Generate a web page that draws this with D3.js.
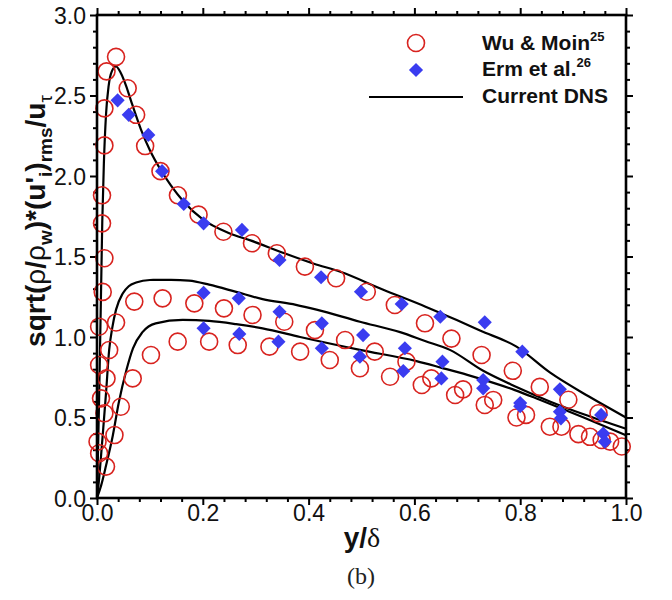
<!DOCTYPE html>
<html>
<head>
<meta charset="utf-8">
<script src="https://cdn.jsdelivr.net/npm/d3@7"></script>
<style>
  body { margin: 0; background: #fff; }
  svg { display: block; }
  text { font-family: "Liberation Sans", Arial, sans-serif; }
</style>
</head>
<body>
<svg id="chart" width="672" height="600"></svg>
<script>
// Current DNS profiles [y/delta, value]
const dnsU = [[0,0],[0.002,0.3],[0.004,0.62],[0.006,0.98],[0.008,1.35],[0.010,1.72],[0.013,2.08],[0.017,2.38],[0.022,2.56],[0.028,2.65],[0.036,2.68],[0.045,2.64],[0.055,2.56],[0.064,2.47],[0.083,2.29],[0.10,2.16],[0.12,2.04],[0.14,1.94],[0.164,1.84],[0.2,1.73],[0.25,1.645],[0.29,1.6],[0.35,1.525],[0.41,1.455],[0.46,1.405],[0.54,1.295],[0.62,1.19],[0.68,1.105],[0.724,1.04],[0.793,0.94],[0.856,0.78],[0.93,0.63],[1.0,0.50]];
const dnsW = [[0,0],[0.004,0.12],[0.0076,0.26],[0.012,0.44],[0.017,0.65],[0.023,0.92],[0.029,1.06],[0.036,1.17],[0.0486,1.27],[0.06,1.315],[0.074,1.338],[0.1,1.354],[0.14,1.355],[0.174,1.35],[0.212,1.325],[0.263,1.28],[0.313,1.235],[0.376,1.2],[0.415,1.17],[0.497,1.095],[0.573,1.03],[0.62,0.975],[0.667,0.92],[0.73,0.79],[0.793,0.69],[0.856,0.6],[0.92,0.52],[1.0,0.43]];
const dnsV = [[0,0],[0.008,0.08],[0.017,0.2],[0.03,0.39],[0.041,0.59],[0.056,0.8],[0.068,0.93],[0.086,1.03],[0.111,1.085],[0.162,1.106],[0.212,1.10],[0.263,1.08],[0.313,1.054],[0.384,1.0],[0.497,0.92],[0.604,0.85],[0.65,0.81],[0.7,0.765],[0.73,0.735],[0.79,0.67],[0.837,0.61],[0.92,0.5],[1.0,0.39]];

// Wu & Moin (circles)
const wuU = [[0.001,0.35],[0.0076,0.619],[0.004,0.826],[0.004,1.064],[0.0108,1.28],[0.014,1.489],[0.0095,1.706],[0.0095,1.88],[0.014,2.19],[0.014,2.42],[0.018,2.65],[0.036,2.74],[0.058,2.545],[0.074,2.38],[0.091,2.186],[0.12,2.03],[0.153,1.88],[0.192,1.76],[0.239,1.654],[0.293,1.582],[0.34,1.52],[0.393,1.437],[0.452,1.365],[0.51,1.281],[0.563,1.199],[0.62,1.085],[0.67,0.99],[0.727,0.888],[0.786,0.79],[0.837,0.69],[0.891,0.61],[0.948,0.526]];
const wuW = [[0.004,0.278],[0.014,0.526],[0.018,0.743],[0.023,0.919],[0.036,1.09],[0.0705,1.22],[0.124,1.24],[0.184,1.209],[0.24,1.178],[0.294,1.137],[0.354,1.095],[0.412,1.043],[0.469,0.981],[0.525,0.909],[0.585,0.847],[0.632,0.743],[0.692,0.675],[0.749,0.609],[0.811,0.516],[0.878,0.443],[0.932,0.38],[0.97,0.35]];
const wuV = [[0.017,0.195],[0.033,0.391],[0.045,0.567],[0.0675,0.743],[0.102,0.888],[0.1525,0.971],[0.212,0.971],[0.266,0.95],[0.326,0.94],[0.384,0.909],[0.44,0.857],[0.497,0.806],[0.554,0.753],[0.614,0.702],[0.677,0.64],[0.733,0.578],[0.793,0.50],[0.856,0.443],[0.91,0.397],[0.954,0.36],[0.992,0.32]];

// Erm et al. (diamonds)
const ermU = [[0.039,2.47],[0.06,2.38],[0.097,2.255],[0.123,2.03],[0.164,1.826],[0.2015,1.706],[0.274,1.665],[0.345,1.478],[0.4236,1.371],[0.499,1.281],[0.576,1.205],[0.649,1.126],[0.733,1.091],[0.804,0.909],[0.875,0.675],[0.953,0.516]];
const ermW = [[0.2015,1.275],[0.268,1.24],[0.345,1.157],[0.425,1.085],[0.503,1.012],[0.582,0.93],[0.653,0.847],[0.73,0.733],[0.80,0.59],[0.875,0.536],[0.957,0.40]];
const ermV = [[0.2015,1.054],[0.269,1.019],[0.343,0.971],[0.425,0.93],[0.497,0.878],[0.579,0.789],[0.651,0.743],[0.73,0.681],[0.80,0.57],[0.877,0.495],[0.96,0.35]];

const xTicks = [0, 0.2, 0.4, 0.6, 0.8, 1.0];
const yTicks = [0, 0.5, 1.0, 1.5, 2.0, 2.5, 3.0];

const legendItems = [
  { label: "Wu & Moin", sup: "25", kind: "circle" },
  { label: "Erm et al.", sup: "26", kind: "diamond" },
  { label: "Current DNS", sup: "", kind: "line" },
];

const red = "#d8231f";
const blue = "#3a3cf0";

// Mise en page
const plotLeft = 97, plotRight = 626, plotTop = 15, plotBottom = 498;

const svg = d3.select("#chart");
svg.append("rect").attr("width", 672).attr("height", 600).attr("fill", "#fff");

const x = d3.scaleLinear().domain([0, 1]).range([plotLeft, plotRight]);
const y = d3.scaleLinear().domain([0, 3]).range([plotBottom, plotTop]);

const xMinor = d3.range(0, 1.0001, 0.04).filter((v) => Math.abs(v / 0.2 - Math.round(v / 0.2)) > 1e-6);
const yMinor = d3.range(0, 3.0001, 0.1).filter((v) => Math.abs(v / 0.5 - Math.round(v / 0.5)) > 1e-6);

// Axes
function drawAxis(axisFn, scale, major, minor, transform, labels) {
  const gMin = svg.append("g").attr("transform", transform)
    .call(axisFn(scale).tickValues(minor).tickSize(4).tickSizeOuter(0).tickFormat(""));
  const gMaj = svg.append("g").attr("transform", transform)
    .call(axisFn(scale).tickValues(major).tickSize(7).tickSizeOuter(0)
      .tickPadding(labels ? 3 : 0).tickFormat(labels ? d3.format(".1f") : ""));
  [gMin, gMaj].forEach((g) => {
    g.select(".domain").remove();
    g.selectAll("line").attr("stroke", "#000").attr("stroke-width", 2);
  });
  gMaj.selectAll("text").attr("font-size", 23).attr("fill", "#111")
    .style("font-family", "'Liberation Sans', Arial, sans-serif");
  return gMaj;
}

const gx = drawAxis(d3.axisBottom, x, xTicks, xMinor, `translate(0,${plotBottom})`, true);
gx.selectAll("text").attr("dy", "0.71em").attr("y", 7);
drawAxis(d3.axisTop, x, xTicks, xMinor, `translate(0,${plotTop})`, false);
const gy = drawAxis(d3.axisLeft, y, yTicks, yMinor, `translate(${plotLeft},0)`, true);
gy.selectAll("text").attr("x", -11).attr("dy", "0.36em");
drawAxis(d3.axisRight, y, yTicks, yMinor, `translate(${plotRight},0)`, false);

// DNS lines
const line = d3.line().x((d) => x(d[0])).y((d) => y(d[1])).curve(d3.curveMonotoneX);
[dnsU, dnsW, dnsV].forEach((s) => {
  svg.append("path").datum(s).attr("d", line)
    .attr("fill", "none").attr("stroke", "#000").attr("stroke-width", 2.2);
});

// Wu & Moin circles
svg.append("g").selectAll("circle")
  .data([].concat(wuU, wuW, wuV))
  .join("circle")
  .attr("cx", (d) => x(d[0])).attr("cy", (d) => y(d[1])).attr("r", 8.5)
  .attr("fill", "none").attr("stroke", red).attr("stroke-width", 1.6);

// Erm et al. diamonds
const diamond = d3.symbol().type(d3.symbolSquare).size(100);
svg.append("g").selectAll("path")
  .data([].concat(ermU, ermW, ermV))
  .join("path")
  .attr("d", diamond)
  .attr("transform", (d) => `translate(${x(d[0])},${y(d[1])}) rotate(45)`)
  .attr("fill", blue);

// Cadre
svg.append("rect")
  .attr("x", plotLeft).attr("y", plotTop)
  .attr("width", plotRight - plotLeft).attr("height", plotBottom - plotTop)
  .attr("fill", "none").attr("stroke", "#000").attr("stroke-width", 2.6);

// Legende
const leg = svg.append("g");
legendItems.forEach((it, i) => {
  const cy = 43 + i * 27;
  if (it.kind === "circle") {
    leg.append("circle").attr("cx", 416).attr("cy", cy).attr("r", 8.5)
      .attr("fill", "none").attr("stroke", red).attr("stroke-width", 1.6);
  } else if (it.kind === "diamond") {
    leg.append("path").attr("d", diamond)
      .attr("transform", `translate(416,${cy}) rotate(45)`).attr("fill", blue);
  } else {
    leg.append("line").attr("x1", 369).attr("x2", 463).attr("y1", cy).attr("y2", cy)
      .attr("stroke", "#000").attr("stroke-width", 2.2);
  }
  const t = leg.append("text").attr("x", 482).attr("y", 50 + i * 26.3)
    .attr("font-size", 21).attr("font-weight", "bold").attr("fill", "#111")
    .text(it.label);
  if (it.sup) {
    t.append("tspan").attr("dy", -9).attr("font-size", 13).text(it.sup);
  }
});

// Titre axe Y
const yt = svg.append("text")
  .attr("transform", "translate(45,221) rotate(-90)")
  .attr("text-anchor", "middle").attr("font-size", 28).attr("font-weight", "bold")
  .attr("fill", "#111");
const parts = [
  ["sqrt(", 0, "bold"], ["ρ", 0, "normal"], ["/", 0, "bold"], ["ρ", 0, "normal"],
  ["w", 7, "bold", 19], [")*(u'", -7, "bold"], ["i", 7, "bold", 19], [")", -7, "bold"],
  ["rms", 7, "bold", 19], ["/u", -7, "bold"], ["τ", 7, "normal", 19],
];
parts.forEach((p) => {
  yt.append("tspan").attr("dy", p[1]).attr("font-weight", p[2])
    .attr("font-size", p[3] || 28).text(p[0]);
});

// Titre axe X
const xt = svg.append("text").attr("x", 362).attr("y", 547)
  .attr("text-anchor", "middle").attr("font-size", 28).attr("fill", "#111");
xt.append("tspan").attr("font-weight", "bold").text("y/");
xt.append("tspan").style("font-family", "'Liberation Serif', 'Times New Roman', serif").text("δ");

// Sous-titre
svg.append("text").attr("x", 361).attr("y", 584).attr("text-anchor", "middle")
  .attr("font-size", 24).style("font-family", "'Liberation Serif', 'Times New Roman', serif")
  .attr("fill", "#222").text("(b)");
</script>
</body>
</html>
